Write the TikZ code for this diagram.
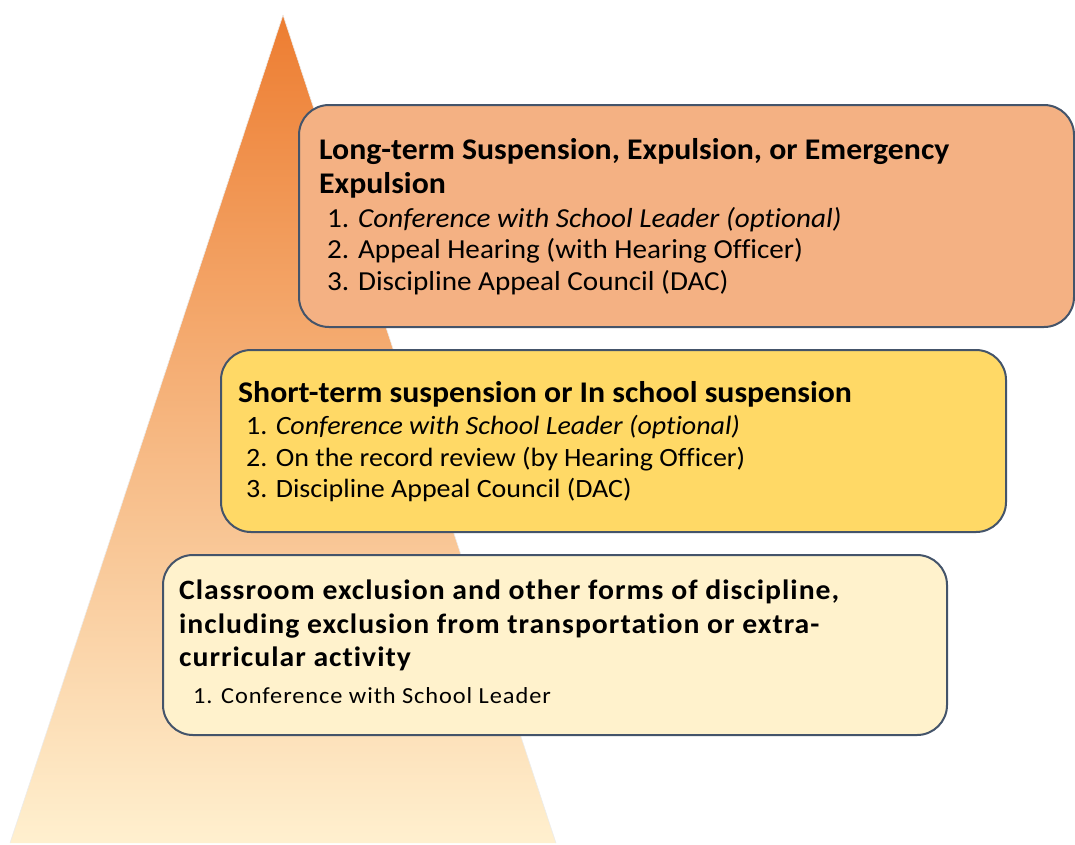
\documentclass[tikz,border=0pt]{standalone}
\usepackage{fontspec}
\setmainfont{Carlito}[FakeStretch=1.06, Ligatures=NoCommon]
\definecolor{edge}{HTML}{44546A}
\definecolor{boxA}{HTML}{F4B183}
\definecolor{boxB}{HTML}{FFD966}
\definecolor{boxC}{HTML}{FFF2CC}
\definecolor{triTop}{HTML}{ED7D31}
\definecolor{triMid}{HTML}{F6C49A}
\definecolor{triBot}{HTML}{FFF0CF}
\tikzset{
  tier/.style={draw=edge, line width=2pt, rounded corners=30pt, inner sep=0pt, anchor=north west},
  ttl/.style={anchor=base west, inner sep=0pt, font=\fontsize{30}{34}\selectfont\bfseries},
  itm/.style={anchor=base west, inner sep=0pt, font=\fontsize{27.5}{31}\selectfont},
  itmB/.style={anchor=base west, inner sep=0pt, font=\fontsize{26.4}{30}\selectfont},
  ttlC/.style={anchor=base west, inner sep=0pt, font=\fontsize{28}{32}\selectfont\bfseries\addfontfeatures{LetterSpace=3.6}},
  itmC/.style={anchor=base west, inner sep=0pt, font=\fontsize{23}{27}\selectfont\addfontfeatures{LetterSpace=4}},
}
\begin{document}
\begin{tikzpicture}[x=1pt,y=-1pt]
\useasboundingbox (0,0) rectangle (1075,844);
\shade[top color=triTop, middle color=triMid, bottom color=triBot]
  (283,15) -- (556,843) -- (10,843) -- cycle;
\draw[white!85!gray, line width=0.6pt] (283,15) -- (556,843) (283,15) -- (10,843);

\node[tier, fill=boxA, minimum width=775pt, minimum height=222pt] (t1) at (298,104) {};
\node[tier, fill=boxB, minimum width=785pt, minimum height=182pt] (t2) at (220,349) {};
\node[tier, fill=boxC, minimum width=784pt, minimum height=180pt] (t3) at (162,554) {};

\node[ttl] (t1a) at (319,159) {Long-term Suspension, Expulsion, or Emergency};
\node[ttl] (t1b) at (319,193) {Expulsion};
\node[itm] (t1c) at (327,227) {1. \textit{Conference with School Leader (optional)}};
\node[itm] (t1d) at (327,258.5) {2. Appeal Hearing (with Hearing Officer)};
\node[itm] (t1e) at (327,290) {3. Discipline Appeal Council (DAC)};

\node[ttl] (t2a) at (238,402.5) {Short-term suspension or In school suspension};
\node[itmB] (t2b) at (246,434) {1. \textit{Conference with School Leader (optional)}};
\node[itmB] (t2c) at (246,466) {2. On the record review (by Hearing Officer)};
\node[itmB] (t2d) at (246,497) {3. Discipline Appeal Council (DAC)};

\node[ttlC] (t3a) at (179,599) {Classroom exclusion and other forms of discipline,};
\node[ttlC] (t3b) at (179,633) {including exclusion from transportation or extra-};
\node[ttlC] (t3c) at (179,666.5) {curricular activity};
\node[itmC] (t3d) at (193,703.5) {1. Conference with School Leader};
\end{tikzpicture}
\end{document}
